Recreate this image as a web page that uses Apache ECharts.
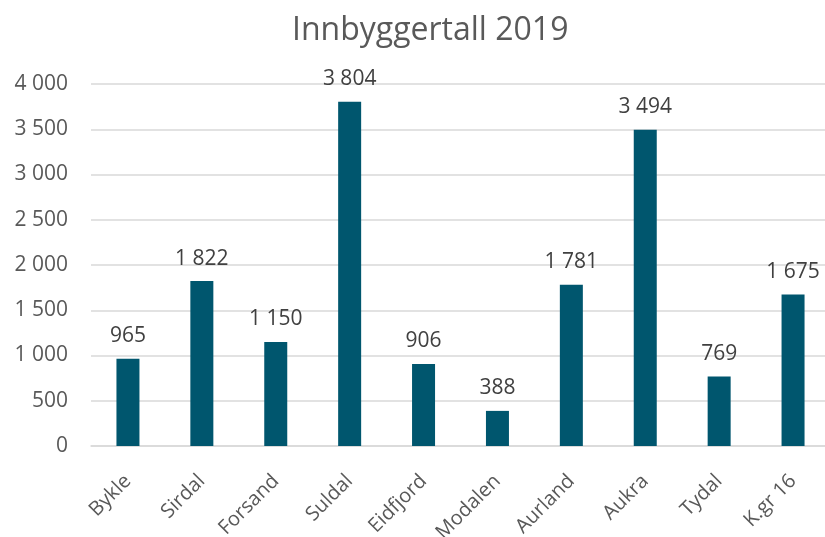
<!DOCTYPE html>
<html>
<head>
<meta charset="utf-8">
<script src="https://cdn.jsdelivr.net/npm/echarts@6/dist/echarts.min.js"></script>
<style>html,body{margin:0;padding:0;background:#fff}#c{width:825px;height:537px}</style>
</head>
<body>
<div id="c"></div>
<script>
const titleText = 'Innbyggertall 2019';
const categories = ['Bykle', 'Sirdal', 'Forsand', 'Suldal', 'Eidfjord', 'Modalen', 'Aurland', 'Aukra', 'Tydal', 'K.gr 16'];
const population = [965, 1822, 1150, 3804, 906, 388, 1781, 3494, 769, 1675];

function fmt(v) {
  return String(v).replace(/\B(?=(\d{3})+(?!\d))/g, ' ');
}

const chart = echarts.init(document.getElementById('c'));
chart.setOption({
  animation: false,
  title: {
    text: titleText,
    left: 287,
    top: 10,
    textStyle: { fontFamily: 'Open Sans', fontSize: 32, fontWeight: 'normal', color: '#595959' }
  },
  grid: { left: 91, right: -5, top: 84, bottom: 91, containLabel: false, outerBoundsMode: 'none' },
  xAxis: {
    type: 'category',
    data: categories,
    axisLine: { lineStyle: { color: '#d9d9d9', width: 1.5 } },
    axisTick: { show: false },
    axisLabel: {
      rotate: 45, interval: 0, margin: 32,
      fontFamily: 'Open Sans', fontSize: 20, color: '#595959'
    }
  },
  yAxis: {
    type: 'value',
    min: 0, max: 4000, interval: 500,
    axisLine: { show: false },
    axisTick: { show: false },
    splitLine: { lineStyle: { color: '#d9d9d9', width: 1.5 } },
    axisLabel: {
      margin: 23,
      fontFamily: 'Open Sans', fontSize: 21, color: '#595959',
      formatter: fmt
    }
  },
  series: [{
    type: 'bar',
    data: population,
    barWidth: 23,
    itemStyle: { color: '#00566e' },
    label: {
      show: true, position: 'top', distance: 12,
      fontFamily: 'Open Sans', fontSize: 21, color: '#404040',
      formatter: p => fmt(p.value)
    }
  }]
});
</script>
</body>
</html>
